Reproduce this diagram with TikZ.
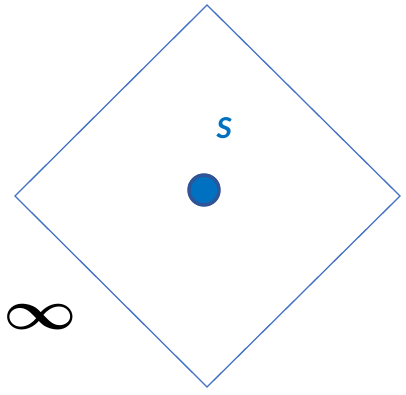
\documentclass[tikz,border=0pt]{standalone}
\usepackage{fontspec}
\usepackage{graphicx}
\setmainfont{Carlito}
\definecolor{edgeblue}{HTML}{4472C4}
\definecolor{dotblue}{HTML}{0070C0}
\definecolor{ringblue}{HTML}{2F5597}
\begin{document}
\begin{tikzpicture}[x=1pt,y=-1pt]
  \useasboundingbox (0,0) rectangle (406,394);
  \begin{scope}
    \coordinate (top) at (207,5);
    \coordinate (right) at (400,196);
    \coordinate (bottom) at (207,387);
    \coordinate (left) at (15,196);
    \draw[edgeblue, line width=1.3pt] (top) -- (right) -- (bottom) -- (left) -- cycle;
  \end{scope}

  \node[circle, fill=dotblue, draw=ringblue, line width=3.5pt, minimum size=30pt, inner sep=0pt] (dot) at (204,190) {};
  \node[text=dotblue, font=\fontsize{32}{32}\selectfont\bfseries\itshape, inner sep=0pt] (label) at (224,128) {S};
  \node[inner sep=0pt] (infty) at (40,317) {\scalebox{6.4}[5.6]{\boldmath$\infty$}};
\end{tikzpicture}
\end{document}
